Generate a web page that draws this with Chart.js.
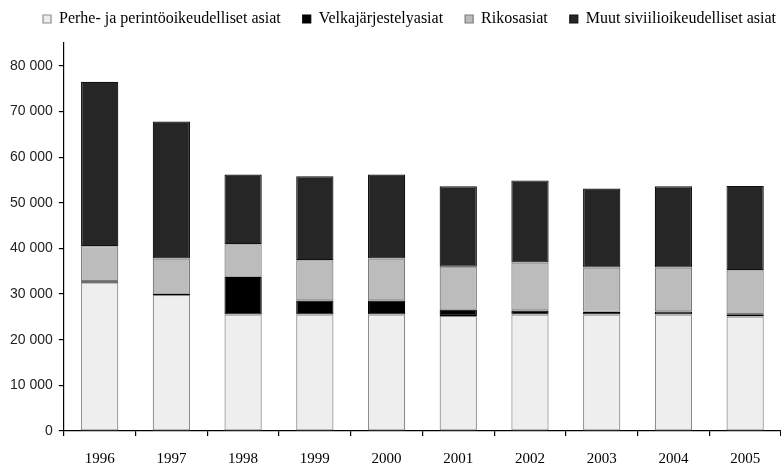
<!DOCTYPE html>
<html>
<head>
<meta charset="utf-8">
<script src="https://cdn.jsdelivr.net/npm/chart.js@4/dist/chart.umd.min.js"></script>
<style>
  html, body { margin: 0; padding: 0; background: #fff; }
  #wrap { width: 781px; height: 466px; }
</style>
</head>
<body>
<div id="wrap"><canvas id="c" width="781" height="466"></canvas></div>
<script>
// Käsitellyt asiat vuosittain (kpl)
const years = ['1996', '1997', '1998', '1999', '2000', '2001', '2002', '2003', '2004', '2005'];
const perhe = [32500, 29800, 25500, 25500, 25500, 25200, 25500, 25500, 25500, 25100];
const velka = [300, 300, 8300, 3100, 3100, 1400, 900, 600, 700, 500];
const rikos = [7700, 7700, 7100, 8800, 9200, 9400, 10500, 9700, 9600, 9600];
const muut = [36000, 30000, 15300, 18400, 18400, 17600, 18000, 17300, 17800, 18500];
const yTicks = [0, 10000, 20000, 30000, 40000, 50000, 60000, 70000, 80000];

const fmt = v => String(v).replace(/\B(?=(\d{3})+(?!\d))/g, ' ');

const whiteBg = {
  id: 'whiteBg',
  beforeDraw(chart) {
    const ctx = chart.ctx;
    ctx.save();
    ctx.fillStyle = '#fff';
    ctx.fillRect(0, 0, chart.width, chart.height);
    ctx.restore();
  }
};

// Legend band: fixed height, and the row nudged into place
const LEGEND_H = 43, LEGEND_DX = 17, LEGEND_DY = -11;
const legendBand = {
  id: 'legendBand',
  beforeUpdate(chart) {
    const lg = chart.legend;
    if (!lg || lg._banded) return;
    const fit = lg.fit.bind(lg);
    lg.fit = function () { fit(); this.height = LEGEND_H; };
    const draw = lg.draw.bind(lg);
    lg.draw = function () {
      const c = this.ctx;
      c.save();
      c.translate(LEGEND_DX, LEGEND_DY);
      draw();
      c.restore();
    };
    lg._banded = true;
  }
};

new Chart(document.getElementById('c'), {
  type: 'bar',
  data: {
    labels: years,
    datasets: [
      { label: 'Perhe- ja perintöoikeudelliset asiat', data: perhe, backgroundColor: '#eeeeee', borderColor: '#8c8c8c' },
      { label: 'Velkajärjestelyasiat', data: velka, backgroundColor: '#000000', borderColor: '#000000' },
      { label: 'Rikosasiat', data: rikos, backgroundColor: '#bcbcbc', borderColor: '#7a7a7a' },
      { label: 'Muut siviilioikeudelliset asiat', data: muut, backgroundColor: '#262626', borderColor: '#111111' }
    ].map(d => Object.assign(d, { borderWidth: 1.2, borderSkipped: false, barPercentage: 0.52, categoryPercentage: 1 }))
  },
  options: {
    responsive: false,
    animation: false,
    layout: { padding: { left: 4, right: 0, top: 0, bottom: -16 } },
    plugins: {
      tooltip: { enabled: false },
      legend: {
        position: 'top',
        align: 'center',
        labels: {
          color: '#000',
          boxWidth: 8,
          boxHeight: 8,
          padding: 22,
          font: { family: 'Liberation Serif', size: 16 }
        }
      }
    },
    scales: {
      x: {
        stacked: true,
        border: { color: '#000', width: 1.2 },
        grid: { display: true, drawOnChartArea: false, drawTicks: true, tickLength: 5, color: '#000', lineWidth: 1.2 },
        ticks: { color: '#000', padding: 14, font: { family: 'Liberation Serif', size: 15 } }
      },
      y: {
        stacked: true,
        min: 0,
        max: 85000,
        afterBuildTicks: axis => { axis.ticks = yTicks.map(v => ({ value: v })); },
        border: { color: '#000', width: 1.2 },
        grid: { display: true, drawOnChartArea: false, drawTicks: true, tickLength: 5, color: '#000', lineWidth: 1.2 },
        ticks: { color: '#222', padding: 6, font: { family: 'Liberation Sans', size: 14 }, callback: v => fmt(v) }
      }
    }
  },
  plugins: [whiteBg, legendBand]
});
</script>
</body>
</html>
